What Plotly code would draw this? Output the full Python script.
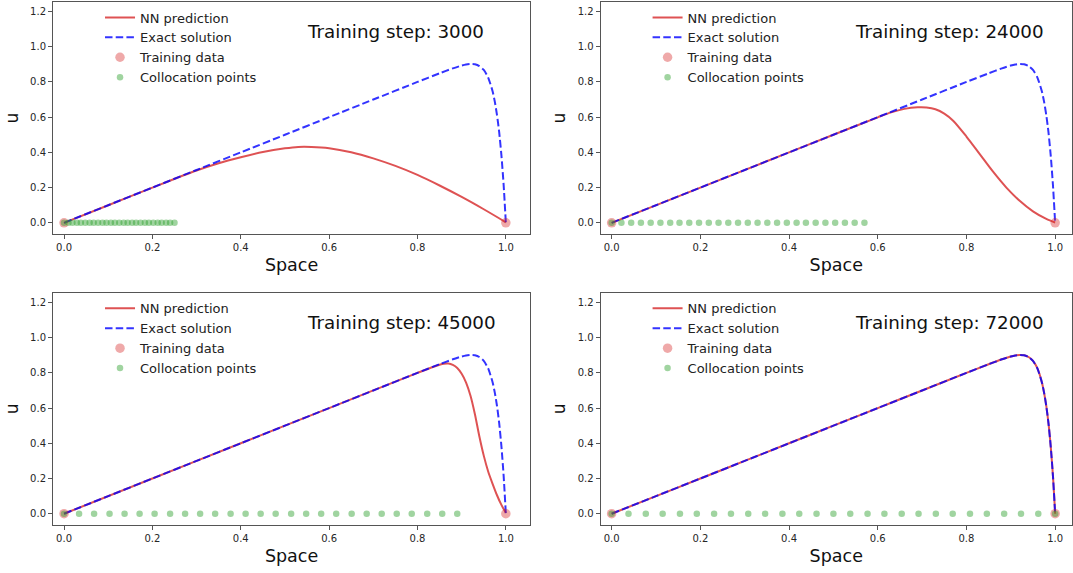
import plotly.graph_objects as go

# ---------------- data ----------------
steps = ["3000", "24000", "45000", "72000"]

x_exact = [0.0, 0.1, 0.2, 0.3, 0.4, 0.5, 0.6, 0.7, 0.8, 0.85, 0.88, 0.9, 0.91, 0.92,
           0.93, 0.94, 0.95, 0.96, 0.97, 0.975, 0.98, 0.985, 0.99, 0.995, 1.0]
u_exact = [0.0, 0.1, 0.2, 0.3, 0.4, 0.5, 0.6, 0.7, 0.8, 0.849, 0.877, 0.893, 0.899, 0.902,
           0.900, 0.890, 0.868, 0.825, 0.747, 0.688, 0.612, 0.513, 0.383, 0.216, 0.0]

x_nn_3000 = [0.0, 0.1, 0.2, 0.3, 0.35, 0.4, 0.45, 0.5, 0.53, 0.56, 0.6, 0.65, 0.7,
             0.75, 0.8, 0.85, 0.9, 0.95, 1.0]
u_nn_3000 = [0.0, 0.1, 0.2, 0.297, 0.338, 0.372, 0.402, 0.423, 0.431, 0.431, 0.424,
             0.401, 0.366, 0.323, 0.272, 0.212, 0.147, 0.077, 0.003]

x_nn_24000 = [0.0, 0.2, 0.4, 0.5, 0.6, 0.63, 0.66, 0.69, 0.71, 0.73, 0.75, 0.77, 0.8,
              0.83, 0.86, 0.89, 0.92, 0.95, 0.98, 1.0]
u_nn_24000 = [0.0, 0.2, 0.4, 0.5, 0.599, 0.627, 0.647, 0.656, 0.655, 0.645, 0.62, 0.58,
              0.49, 0.39, 0.29, 0.2, 0.125, 0.065, 0.022, 0.002]

x_nn_45000 = [0.0, 0.2, 0.4, 0.6, 0.8, 0.83, 0.85, 0.86, 0.87, 0.88, 0.89, 0.9, 0.91,
              0.92, 0.93, 0.94, 0.95, 0.96, 0.97, 0.98, 0.99, 1.0]
u_nn_45000 = [0.0, 0.2, 0.4, 0.6, 0.8, 0.829, 0.846, 0.852, 0.853, 0.845, 0.828, 0.795,
              0.745, 0.67, 0.565, 0.44, 0.33, 0.24, 0.17, 0.105, 0.05, 0.005]

x_nn_72000 = [0.0, 0.1, 0.2, 0.3, 0.4, 0.5, 0.6, 0.7, 0.8, 0.85, 0.88, 0.9, 0.91, 0.92,
              0.93, 0.94, 0.95, 0.96, 0.97, 0.975, 0.98, 0.985, 0.99, 0.995, 1.0]
u_nn_72000 = [0.0, 0.1, 0.2, 0.3, 0.4, 0.5, 0.6, 0.7, 0.8, 0.849, 0.877, 0.893, 0.899, 0.902,
              0.900, 0.890, 0.868, 0.825, 0.747, 0.688, 0.612, 0.513, 0.383, 0.216, 0.0]

x_train = [0.0, 1.0]
u_train = [0.0, 0.0]

x_col_3000 = [0.0, 0.010, 0.019, 0.029, 0.038, 0.048, 0.058, 0.067, 0.077, 0.087, 0.096,
              0.106, 0.115, 0.125, 0.135, 0.144, 0.154, 0.163, 0.173, 0.183, 0.192, 0.202,
              0.212, 0.221, 0.231, 0.240, 0.250]
x_col_24000 = [0.0, 0.022, 0.044, 0.066, 0.088, 0.110, 0.132, 0.153, 0.175, 0.197, 0.219,
               0.241, 0.263, 0.285, 0.307, 0.329, 0.351, 0.373, 0.395, 0.417, 0.438, 0.460,
               0.482, 0.504, 0.526, 0.548, 0.570]
x_col_45000 = [0.0, 0.034, 0.068, 0.103, 0.137, 0.171, 0.205, 0.240, 0.274, 0.308, 0.342,
               0.377, 0.411, 0.445, 0.479, 0.514, 0.548, 0.582, 0.616, 0.651, 0.685, 0.719,
               0.753, 0.787, 0.822, 0.856, 0.890]
x_col_72000 = [0.0, 0.038, 0.077, 0.115, 0.154, 0.192, 0.231, 0.269, 0.308, 0.346, 0.385,
               0.423, 0.462, 0.500, 0.538, 0.577, 0.615, 0.654, 0.692, 0.731, 0.769, 0.808,
               0.846, 0.885, 0.923, 0.962, 1.0]

x_ticks = [0.0, 0.2, 0.4, 0.6, 0.8, 1.0]
y_ticks = [0.0, 0.2, 0.4, 0.6, 0.8, 1.0, 1.2]

# ---------------- figure ----------------
FONT = "DejaVu Sans"
W, H = 1073, 573
ML, MR, MT, MB = 53.3, 1.0, 2.0, 47.5
PW, PH = W - ML - MR, H - MT - MB


def px_x(p):
    return (p - ML) / PW


def px_y(p):
    return (H - MB - p) / PH


panels = [
    (x_nn_3000, u_nn_3000, x_col_3000),
    (x_nn_24000, u_nn_24000, x_col_24000),
    (x_nn_45000, u_nn_45000, x_col_45000),
    (x_nn_72000, u_nn_72000, x_col_72000),
]

# box pixel extents (left, right, top, bottom)
boxes = [
    (53.3, 530.3, 2.0, 234.3),
    (600.7, 1072.0, 2.0, 234.3),
    (53.3, 530.3, 293.2, 525.5),
    (600.7, 1072.0, 293.2, 525.5),
]
x_ranges = [[-0.025, 1.055], [-0.025, 1.038], [-0.025, 1.055], [-0.025, 1.038]]
y_range = [-0.064, 1.254]

fig = go.Figure()
layout = {}
for k, (xn, un, xc) in enumerate(panels):
    sfx = "" if k == 0 else str(k + 1)
    xa, ya, lg = "x" + sfx, "y" + sfx, "legend" + sfx
    fig.add_trace(go.Scatter(
        x=xn, y=un, mode="lines", name="NN prediction",
        line=dict(color="rgba(214,39,40,0.8)", width=2, shape="spline", smoothing=0.8),
        xaxis=xa, yaxis=ya, legend=lg))
    fig.add_trace(go.Scatter(
        x=x_exact, y=u_exact, mode="lines", name="Exact solution",
        line=dict(color="rgba(0,0,255,0.8)", width=2, dash="7.5px,3.2px",
                  shape="spline", smoothing=0.6),
        xaxis=xa, yaxis=ya, legend=lg))
    fig.add_trace(go.Scatter(
        x=x_train, y=u_train, mode="markers", name="Training data",
        marker=dict(color="rgba(214,39,40,0.4)", size=9.5, line=dict(width=0)),
        xaxis=xa, yaxis=ya, legend=lg))
    fig.add_trace(go.Scatter(
        x=xc, y=[0.0] * len(xc), mode="markers", name="Collocation points",
        marker=dict(color="rgba(44,160,44,0.45)", size=6.5, line=dict(width=0)),
        xaxis=xa, yaxis=ya, legend=lg))

    l, r, t, b = boxes[k]
    axis_common = dict(
        showline=True, linecolor="#555", linewidth=1, mirror=True,
        ticks="outside", ticklen=4, tickwidth=1, tickcolor="#555",
        tickfont=dict(family=FONT, size=10, color="#262626"),
        showgrid=False, zeroline=False, fixedrange=True,
    )
    layout["xaxis" + sfx] = dict(
        axis_common, domain=[px_x(l), min(1.0, px_x(r))], anchor=ya,
        range=x_ranges[k], tickvals=x_ticks, tickformat=".1f",
        title=dict(text="Space", font=dict(family=FONT, size=17.5, color="#111"), standoff=6),
    )
    layout["yaxis" + sfx] = dict(
        axis_common, domain=[max(0.0, px_y(b)), min(1.0, px_y(t))], anchor=xa,
        range=y_range, tickvals=y_ticks, tickformat=".1f",
        title=dict(text="u", font=dict(family=FONT, size=17, color="#111"), standoff=7),
    )
    layout[lg] = dict(
        x=px_x(l + 47), y=px_y(t + 0.5), xanchor="left", yanchor="top",
        xref="paper", yref="paper",
        bgcolor="rgba(0,0,0,0)", borderwidth=0,
        font=dict(family=FONT, size=13, color="#222"),
        itemwidth=30, tracegroupgap=0,
    )
    fig.add_annotation(
        text="Training step: " + steps[k], xref=xa, yref=ya, x=0.545, y=1.085,
        xanchor="left", yanchor="middle", showarrow=False,
        font=dict(family=FONT, size=18.3, color="#111"),
    )

fig.update_layout(
    width=W, height=H, autosize=False,
    margin=dict(l=ML, r=MR, t=MT, b=MB, pad=0),
    paper_bgcolor="white", plot_bgcolor="white",
    font=dict(family=FONT),
    **layout,
)

fig.write_html("out.html", config={"displayModeBar": False})
